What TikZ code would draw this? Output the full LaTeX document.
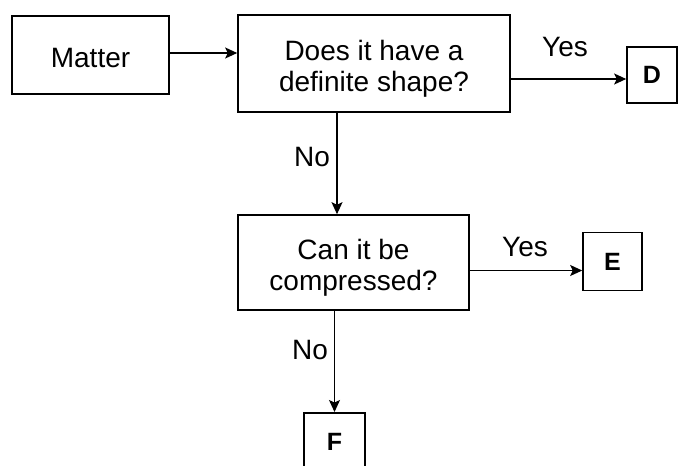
\documentclass[tikz,border=0pt]{standalone}
\usepackage{fontspec}
\setmainfont{Liberation Sans}
\usetikzlibrary{arrows.meta}
\newcommand{\mylines}[3]{\raisebox{#3}[\height][\depth]{\begin{tabular}{@{}c@{}}#1\\#2\end{tabular}}}
\tikzset{
  box/.style={draw=black, line width=1.6pt, inner sep=0pt, align=center,
    font=\fontsize{28}{31}\selectfont},
  letterbox/.style={box, font=\fontsize{25}{27}\selectfont\bfseries},
  arr/.style={line width=1.3pt, -{Stealth[length=12pt,width=11pt,inset=2.5pt]}},
  lbl/.style={inner sep=0pt, font=\fontsize{28}{30}\selectfont}
}
\begin{document}
\begin{tikzpicture}[x=1pt,y=-1pt]
\useasboundingbox (0,0) rectangle (683,466);
\clip (0,0) rectangle (683,466);
\node[box, minimum width=157pt, minimum height=78pt] (matter) at (90.5,55) {\raisebox{-3pt}[\height][\depth]{Matter}};
\node[box, minimum width=272pt, minimum height=97pt] (q1) at (374,63.5) {\mylines{Does it have a}{definite shape?}{-6pt}};
\node[letterbox, minimum width=50pt, minimum height=56pt] (D) at (652,75) {D};
\node[box, minimum width=231pt, minimum height=95pt] (q2) at (353.5,262.5) {\mylines{Can it be}{compressed?}{-6pt}};
\node[letterbox, minimum width=59pt, minimum height=58pt] (E) at (612.5,261.5) {E};
\node[letterbox, minimum width=61pt, minimum height=58pt, anchor=north] (F) at (334.5,412) {F};
\coordinate (c1) at (337,0);
\coordinate (dIn) at ([yshift=-4pt]D.west);
\coordinate (eIn) at ([yshift=-9pt]E.west);
\draw[arr] (matter.east |- 0,53) -- (q1.west |- 0,53);
\draw[arr] (q1.east |- dIn) -- (dIn);
\draw[arr] (q1.south -| c1) -- (q2.north -| c1);
\draw[arr] (q2.east |- eIn) -- (eIn);
\draw[arr] (q2.south -| F.north) -- (F.north);
\node[lbl] (yes1) at (565,47) {Yes};
\node[lbl] (no1) at (312,157) {No};
\node[lbl] (yes2) at (525,247) {Yes};
\node[lbl] (no2) at (310,350) {No};
\end{tikzpicture}
\end{document}
